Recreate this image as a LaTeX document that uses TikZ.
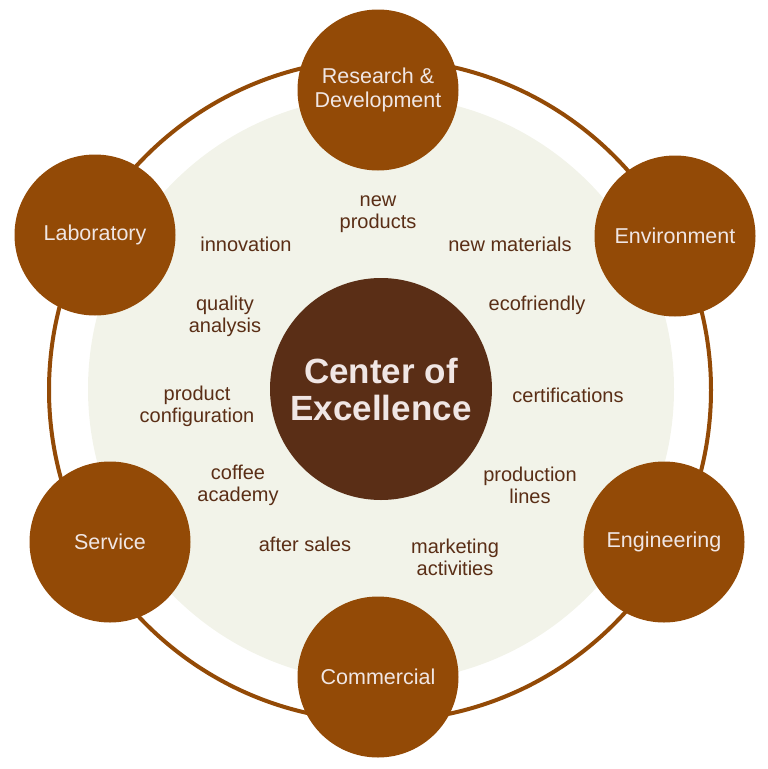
\documentclass[tikz,border=0pt]{standalone}
\usepackage{fontspec}
\setmainfont{Liberation Sans}
\definecolor{hubbrown}{HTML}{5A2E16}
\definecolor{spokebrown}{HTML}{934A06}
\definecolor{diskcream}{HTML}{F2F3E9}
\definecolor{paletext}{HTML}{F0E6E4}
\tikzset{
  hub/.style={circle, fill=hubbrown, minimum size=222pt, inner sep=0pt,
    text=paletext, font=\fontsize{35}{37}\selectfont\bfseries, align=center},
  spoke/.style={circle, fill=spokebrown, minimum size=161pt, inner sep=0pt,
    text=paletext, font=\fontsize{21.5}{23.5}\selectfont, align=center},
  topic/.style={text=hubbrown, font=\fontsize{20}{22}\selectfont,
    align=center, inner sep=0pt}
}
\begin{document}
\begin{tikzpicture}[x=1pt,y=-1pt]
    \useasboundingbox (0,0) rectangle (768,769);
    % ring and cream disk
    \draw[spokebrown, line width=4pt] (380,390) circle (331);
    \fill[diskcream] (381,389) circle (293);
    % hub
    \node[hub] (coe) at (381,389) {Center of\\Excellence};
    % spokes
    \node[spoke] (rd) at (378,90) {Research \&\\Development};
    \node[spoke] (env) at (675,236) {Environment};
    \node[spoke] (eng) at (664,542) {Engineering};
    \node[spoke] (com) at (378,677) {Commercial};
    \node[spoke] (srv) at (110,542) {Service};
    \node[spoke] (lab) at (95,235) {Laboratory};
    % topics
    \node[topic] (newprod) at (378,214) {new\\products};
    \node[topic] (innov) at (246,244) {innovation};
    \node[topic] (newmat) at (510,244) {new materials};
    \node[topic] (quality) at (225,316) {quality\\analysis};
    \node[topic] (eco) at (537,305) {ecofriendly};
    \node[topic] (config) at (197,406) {product\\configuration};
    \node[topic] (cert) at (568,395) {certifications};
    \node[topic] (academy) at (238,485) {coffee\\academy};
    \node[topic] (lines) at (530,485) {production\\lines};
    \node[topic] (aftersales) at (305,544) {after sales};
    \node[topic] (marketing) at (455,557) {marketing\\activities};
\end{tikzpicture}
\end{document}
